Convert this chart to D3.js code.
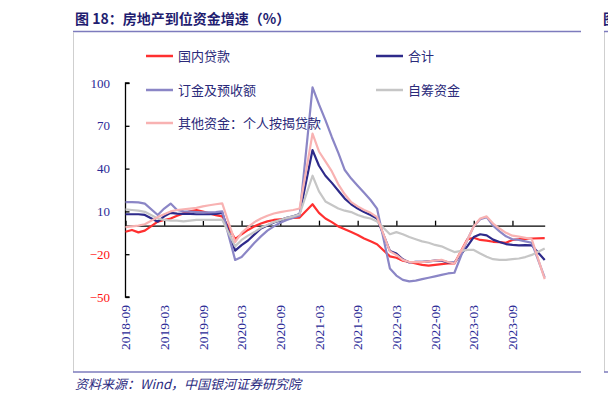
<!DOCTYPE html>
<html><head><meta charset="utf-8">
<script src="https://cdn.jsdelivr.net/npm/d3@7"></script>
<style>
html,body{margin:0;padding:0;background:#fff;}
svg{display:block;}
</style></head>
<body>
<svg id="chart" width="608" height="402"></svg>
<script>
const dates = [
"2018-09","2018-10","2018-11","2018-12",
"2019-02","2019-03","2019-04","2019-05","2019-06","2019-07","2019-08","2019-09","2019-10","2019-11","2019-12",
"2020-02","2020-03","2020-04","2020-05","2020-06","2020-07","2020-08","2020-09","2020-10","2020-11","2020-12",
"2021-02","2021-03","2021-04","2021-05","2021-06","2021-07","2021-08","2021-09","2021-10","2021-11","2021-12",
"2022-02","2022-03","2022-04","2022-05","2022-06","2022-07","2022-08","2022-09","2022-10","2022-11","2022-12",
"2023-02","2023-03","2023-04","2023-05","2023-06","2023-07","2023-08","2023-09","2023-10","2023-11","2023-12",
"2024-02"];

const domesticLoans = [-4.3,-3,-4.7,-3.5,
 2.8,4,5,7,8.6,10,11,9.8,8.6,7.4,6.5,
 -9.4,-6,-3,-0.5,1.5,3,4,4.5,5,5.5,5.7,
 15,9,5,2.5,-0.5,-2.5,-4.5,-6.5,-9,-11,-13,
 -21.5,-22.5,-24.5,-25.5,-26.5,-27.5,-28,-27.5,-27,-26.5,-26.5,
 -9.6,-8.5,-10,-10.5,-11.3,-11.5,-12,-10,-9.5,-9.3,-9,
 -8.8];
const totalFunds = [8,8,8,7.5,
 2.8,6.5,9,8.5,8.3,8.3,8,8,8,8.3,9,
 -17.5,-13.6,-10.4,-6.1,-1.9,0.1,2.2,3.7,5.5,6.6,8.1,
 53,42,35,30,24.5,19,15,12,9.5,7.5,5,
 -17.7,-19.6,-23.6,-25.8,-25.3,-25.4,-25,-24.5,-24.5,-25.7,-25.9,
 -14.5,-8,-6,-6.8,-9.8,-11.5,-12.9,-13.5,-13.8,-13.6,-13.8,
 -24.1];
const depositsAdvance = [16.5,16.5,16.3,15.5,
 7.5,12,15.5,11,10,9.8,9.5,9.3,9.3,9.5,10,
 -24,-22,-17,-12,-7.5,-3.5,-0.5,2,4,5.5,7,
 97,85,74,62,51,39,33,28,23,18,12,
 -30,-35,-38,-39,-38.5,-37.5,-36.5,-35.5,-34.5,-33.5,-33,
 -10,-0.5,4.5,6,0,-4,-7.5,-9.5,-10,-11,-12,
 -36.5];
const selfRaised = [11.4,11,10.5,9.7,
 5,4,3.5,3.5,3,3.5,4,4,4,4,4.2,
 -14.5,-10,-7,-4.5,-1.5,0.5,2.5,4,5.5,6.5,8,
 35,24,17,14.5,12,10.5,9.5,7.5,6,5,3,
 -6,-4.5,-6,-8,-9.5,-11,-12,-13.5,-14.5,-16.5,-18.5,
 -17,-17,-19.5,-21.8,-23.5,-24,-24,-23.5,-23,-22,-20.5,
 -16];
const mortgage = [-1,-0.5,0,1,
 6,8,10,11,11.5,12,12.5,13.5,14.3,15,15.6,
 -11.5,-5,-1,2.5,5,7,8.5,9.5,10.3,11,12,
 64.5,52,45,38,29,22,16.5,13.5,11,9,6,
 -18,-20.5,-24,-25.5,-25.5,-25.5,-25,-24.5,-24,-25.5,-26.5,
 -10,-0.5,5,6.5,1.5,-2,-5,-7,-7.7,-8.5,-9.5,
 -37.5];

const seriesNames = ["国内贷款","合计","订金及预收额","自筹资金","其他资金：个人按揭贷款"];
const seriesColors = ["#ff3030","#2e2a8a","#8b86c6","#c6c6c6","#f8b2b2"];
const seriesValues = [domesticLoans,totalFunds,depositsAdvance,selfRaised,mortgage];

const xTickLabels = ["2018-09","2019-03","2019-09","2020-03","2020-09","2021-03","2021-09","2022-03","2022-09","2023-03","2023-09"];
const yTickValues = [100,70,40,10,-20,-50];

const titleText = "图 18：房地产到位资金增速（%）";
const sourceText = "资料来源：Wind，中国银河证券研究院";

const svg = d3.select("#chart");
const monthIndex = s => { const [y,m] = s.split("-").map(Number); return (y-2018)*12 + (m-9); };

const x = d3.scaleLinear().domain([0, monthIndex("2024-02")]).range([125.5, 544.7]);
const y = d3.scaleLinear().domain([-50, 100]).range([297, 83]);

// frame
svg.append("text").attr("x",75).attr("y",24)
  .attr("font-family","'Noto Sans CJK SC'").attr("font-size",14).attr("font-weight","bold")
  .attr("fill","#1f1d70").text(titleText);
svg.append("line").attr("x1",73).attr("x2",581).attr("y1",31.5).attr("y2",31.5)
  .attr("stroke","#7d7bbd").attr("stroke-width",1.5);
svg.append("line").attr("x1",73.5).attr("x2",73.5).attr("y1",32).attr("y2",372)
  .attr("stroke","#cfcfcf").attr("stroke-width",1);
svg.append("line").attr("x1",73).attr("x2",581).attr("y1",372).attr("y2",372)
  .attr("stroke","#7d7bbd").attr("stroke-width",1.5);
svg.append("text").attr("x",75).attr("y",389)
  .attr("font-family","'Noto Sans CJK SC'").attr("font-size",13).attr("font-style","italic")
  .attr("fill","#2b2a80").text(sourceText);
// neighbouring figure edge
svg.append("text").attr("x",603).attr("y",24)
  .attr("font-family","'Noto Sans CJK SC'").attr("font-size",14).attr("font-weight","bold")
  .attr("fill","#1f1d70").text("图");
svg.append("line").attr("x1",604.5).attr("x2",604.5).attr("y1",32).attr("y2",372)
  .attr("stroke","#cfcfcf").attr("stroke-width",1);
svg.append("line").attr("x1",604).attr("x2",608).attr("y1",31.5).attr("y2",31.5)
  .attr("stroke","#7d7bbd").attr("stroke-width",1.5);
svg.append("line").attr("x1",604).attr("x2",608).attr("y1",372).attr("y2",372)
  .attr("stroke","#7d7bbd").attr("stroke-width",1.5);

// y axis
const yAxis = d3.axisRight(y).tickValues(yTickValues).tickSize(4).tickFormat("");
const yg = svg.append("g").attr("transform",`translate(${x(0)},0)`).call(yAxis);
yg.select(".domain").attr("stroke","#000").attr("stroke-width",1.3).attr("d",`M4,${y(100)}H0V${y(-50)}H4`);
yg.selectAll(".tick line").attr("stroke","#000").attr("stroke-width",1.3);
svg.append("g").selectAll("text").data(yTickValues).join("text")
  .attr("x",110).attr("y",d=>y(d)).attr("dy","0.35em").attr("text-anchor","end")
  .attr("font-family","'Liberation Serif'").attr("font-size",13)
  .attr("fill",d=>d<0?"#ff1010":"#2b2a96")
  .text(d=>d<0?"\u2212"+Math.abs(d):d);

// x axis at zero
const xTickPos = xTickLabels.map(monthIndex);
const xAxis = d3.axisTop(x).tickValues(xTickPos).tickSize(5).tickSizeOuter(0).tickFormat("");
const xg = svg.append("g").attr("transform",`translate(0,${y(0)})`).call(xAxis);
xg.select(".domain").attr("stroke","#000").attr("stroke-width",1.3);
xg.selectAll(".tick line").attr("stroke","#000").attr("stroke-width",1.3);
svg.append("g").selectAll("text").data(xTickLabels).join("text")
  .attr("transform",d=>`translate(${x(monthIndex(d))},305) rotate(-90)`)
  .attr("dy","0.35em").attr("text-anchor","end")
  .attr("font-family","'Liberation Serif'").attr("font-size",13.5)
  .attr("fill","#2b2a96").text(d=>d);

// lines
const line = d3.line().x((d,i)=>x(monthIndex(dates[i]))).y(d=>y(d));
seriesValues.forEach((vals,k)=>{
  svg.append("path").datum(vals).attr("d",line)
    .attr("fill","none").attr("stroke",seriesColors[k]).attr("stroke-width",2.2)
    .attr("stroke-linejoin","round");
});

// legend
const legendPos = [[146,56],[376,56],[146,90],[376,90],[146,123]];
const lg = svg.append("g");
seriesNames.forEach((n,k)=>{
  const [lx,ly] = legendPos[k];
  lg.append("line").attr("x1",lx).attr("x2",lx+27).attr("y1",ly).attr("y2",ly)
    .attr("stroke",seriesColors[k]).attr("stroke-width",2.5);
  lg.append("text").attr("x",lx+32).attr("y",ly).attr("dy","0.35em")
    .attr("font-family","'Noto Sans CJK SC'").attr("font-size",13)
    .attr("fill","#2b2a7a").text(n);
});
</script>
</body></html>
